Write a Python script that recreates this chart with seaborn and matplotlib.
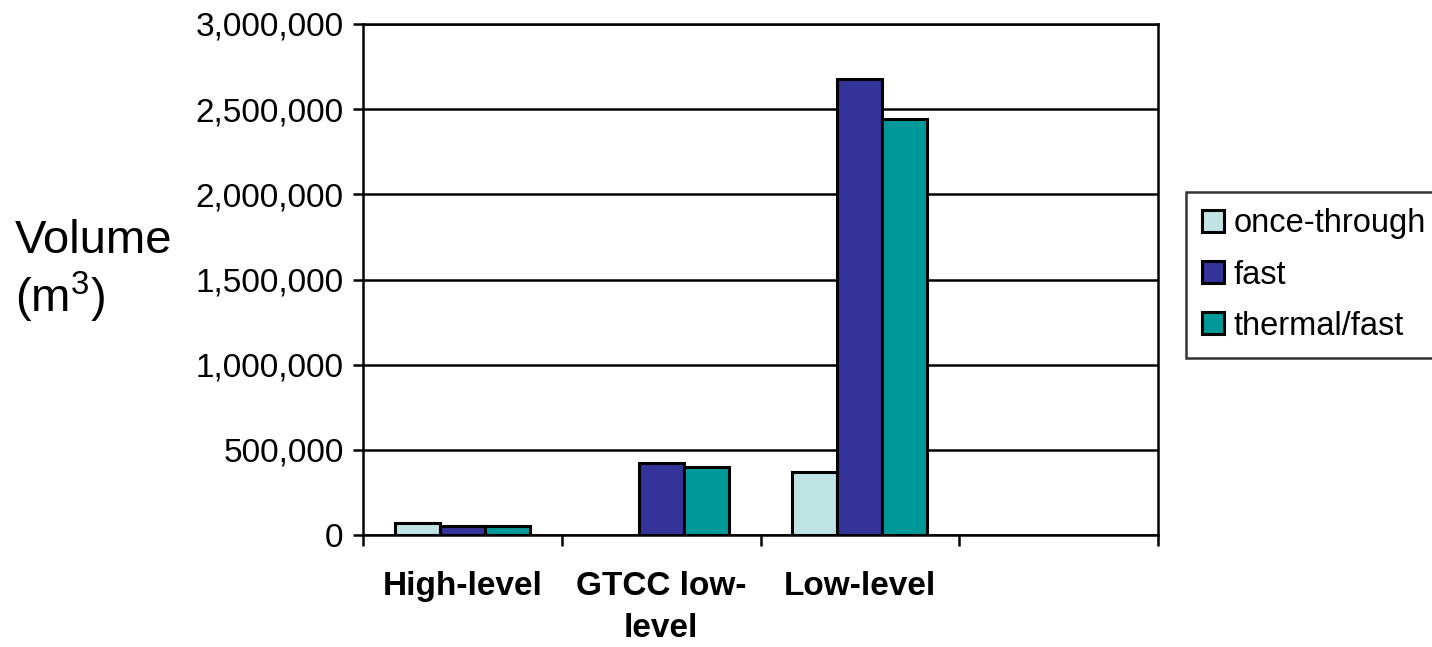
import numpy as np
import pandas as pd
import matplotlib
matplotlib.use("Agg")
import matplotlib.pyplot as plt
import seaborn as sns
from matplotlib.ticker import FuncFormatter

# data
categories = ["High-level", "GTCC low-level", "Low-level", "blank"]
tick_labels = ["High-level", "GTCC low-\nlevel", "Low-level", ""]
series = ["once-through", "fast", "thermal/fast"]
once_through = [70000, np.nan, 370000, np.nan]
fast = [50000, 420000, 2680000, np.nan]
thermal_fast = [50000, 400000, 2440000, np.nan]
y_ticks = [0, 500000, 1000000, 1500000, 2000000, 2500000, 3000000]
colors = ["#C0E3E3", "#333399", "#009999"]

df = pd.DataFrame({
    "category": categories * 3,
    "series": np.repeat(series, len(categories)),
    "volume": once_through + fast + thermal_fast,
})

sns.set_style("white")
plt.rcParams["font.family"] = ["Liberation Sans", "DejaVu Sans"]
plt.rcParams["text.color"] = "black"
plt.rcParams["xtick.color"] = "black"
plt.rcParams["ytick.color"] = "black"
plt.rcParams["mathtext.fontset"] = "custom"
plt.rcParams["mathtext.rm"] = "Liberation Sans"

fig = plt.figure(figsize=(14.32, 6.47), dpi=100)
ax = fig.add_axes([363 / 1432, 1 - 535 / 647, (1158 - 363) / 1432, (535 - 24) / 647])

sns.barplot(data=df, x="category", y="volume", hue="series",
            order=categories, hue_order=series, palette=colors,
            saturation=1, width=0.68, edgecolor="black", linewidth=2.2,
            errorbar=None, ax=ax)

# y axis
ax.set_ylim(0, 3000000)
ax.set_yticks(y_ticks)
ax.yaxis.set_major_formatter(FuncFormatter(lambda v, p: f"{int(v):,}"))
ax.yaxis.grid(True, color="black", linewidth=1.8)
ax.set_axisbelow(True)
ax.tick_params(axis="y", direction="out", length=7, width=1.8,
               labelsize=24, pad=7, left=True)

# x axis: ticks between categories, labels at the centres
n = len(categories)
ax.set_xlim(-0.5, n - 0.5)
ax.set_xticks(np.arange(-0.5, n, 1.0), labels=[""] * (n + 1))
ax.set_xticks(np.arange(n), labels=tick_labels, minor=True)
ax.tick_params(axis="x", which="major", direction="out", length=8, width=1.8,
               bottom=True)
ax.tick_params(axis="x", which="minor", length=0, pad=26, labelsize=24)
for lbl in ax.get_xticklabels(minor=True):
    lbl.set_fontweight("bold")
    lbl.set_linespacing(1.45)
    lbl.set_va("top")

ax.set_xlabel("")
ax.set_ylabel("")
for s in ax.spines.values():
    s.set_visible(True)
    s.set_color("black")
    s.set_linewidth(1.8)

fig.text(15 / 1432, 1 - 272 / 647, "Volume\n(m$^{3}$)", ha="left", va="center",
         fontsize=34, multialignment="left", linespacing=1.15)

handles, labels = ax.get_legend_handles_labels()
ax.get_legend().remove()
leg = fig.legend(handles, labels, loc="upper left",
                 bbox_to_anchor=(1186 / 1432, 1 - 192 / 647),
                 fontsize=23.5, frameon=True, fancybox=False, edgecolor="black",
                 handlelength=0.65, handleheight=0.65, handletextpad=0.3,
                 labelspacing=0.62, borderpad=0.5, borderaxespad=0)
leg.get_frame().set_linewidth(1.8)

fig.savefig("out.png", dpi=100)
